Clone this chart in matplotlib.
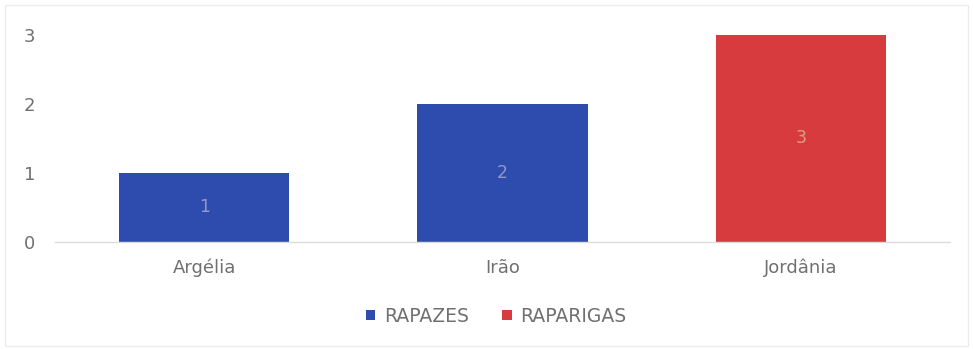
import matplotlib
matplotlib.use("Agg")
import matplotlib.pyplot as plt
from matplotlib.patches import Rectangle
import numpy as np

categories = ["Argélia", "Irão", "Jordânia"]
rapazes = [1, 2, 0]
raparigas = [0, 0, 3]
series_names = ["RAPAZES", "RAPARIGAS"]
y_ticks = [0, 1, 2, 3]

blue = "#2E4BAE"
red = "#D73B3E"
text_gray = "#707070"

plt.rcParams["font.family"] = ["DejaVu Sans"]

fig = plt.figure(figsize=(9.73, 3.49), dpi=100)
fig.patches.append(Rectangle((0.005, 0.01), 0.99, 0.975, transform=fig.transFigure,
                             fill=False, edgecolor="#ececec", linewidth=1.0))
ax = fig.add_axes([55 / 973, 1 - 242 / 349, 895 / 973, 207 / 349])

x = np.arange(len(categories))
width = 0.57
b1 = ax.bar(x, rapazes, width, color=blue, label=series_names[0], zorder=2)
b2 = ax.bar(x, raparigas, width, bottom=rapazes, color=red, label=series_names[1], zorder=2)

for bars, vals, bottoms, col in ((b1, rapazes, [0, 0, 0], "#8f99c4"),
                                 (b2, raparigas, rapazes, "#d9a07e")):
    for rect, v, b in zip(bars, vals, bottoms):
        if v:
            ax.text(rect.get_x() + rect.get_width() / 2, b + v / 2, str(v),
                    ha="center", va="center", fontsize=12.5, color=col)

ax.set_xlim(-0.5, 2.5)
ax.set_ylim(0, 3)
ax.set_yticks(y_ticks)
ax.set_xticks(x)
ax.set_xticklabels(categories)
for s in ["top", "right", "left"]:
    ax.spines[s].set_visible(False)
ax.spines["bottom"].set_color("#dcdcdc")
ax.spines["bottom"].set_linewidth(1.0)
ax.tick_params(axis="both", length=0, colors=text_gray, labelsize=13)
ax.tick_params(axis="y", pad=14)
ax.tick_params(axis="x", pad=12)

leg = fig.legend(handles=[b1, b2], labels=series_names, loc="center",
                 bbox_to_anchor=(496 / 973, 1 - 316 / 349), ncol=2, frameon=False,
                 fontsize=13.5, handlelength=0.5, handleheight=0.5, handletextpad=0.45,
                 columnspacing=1.8)
for t in leg.get_texts():
    t.set_color(text_gray)

fig.savefig("out.png", dpi=100)
